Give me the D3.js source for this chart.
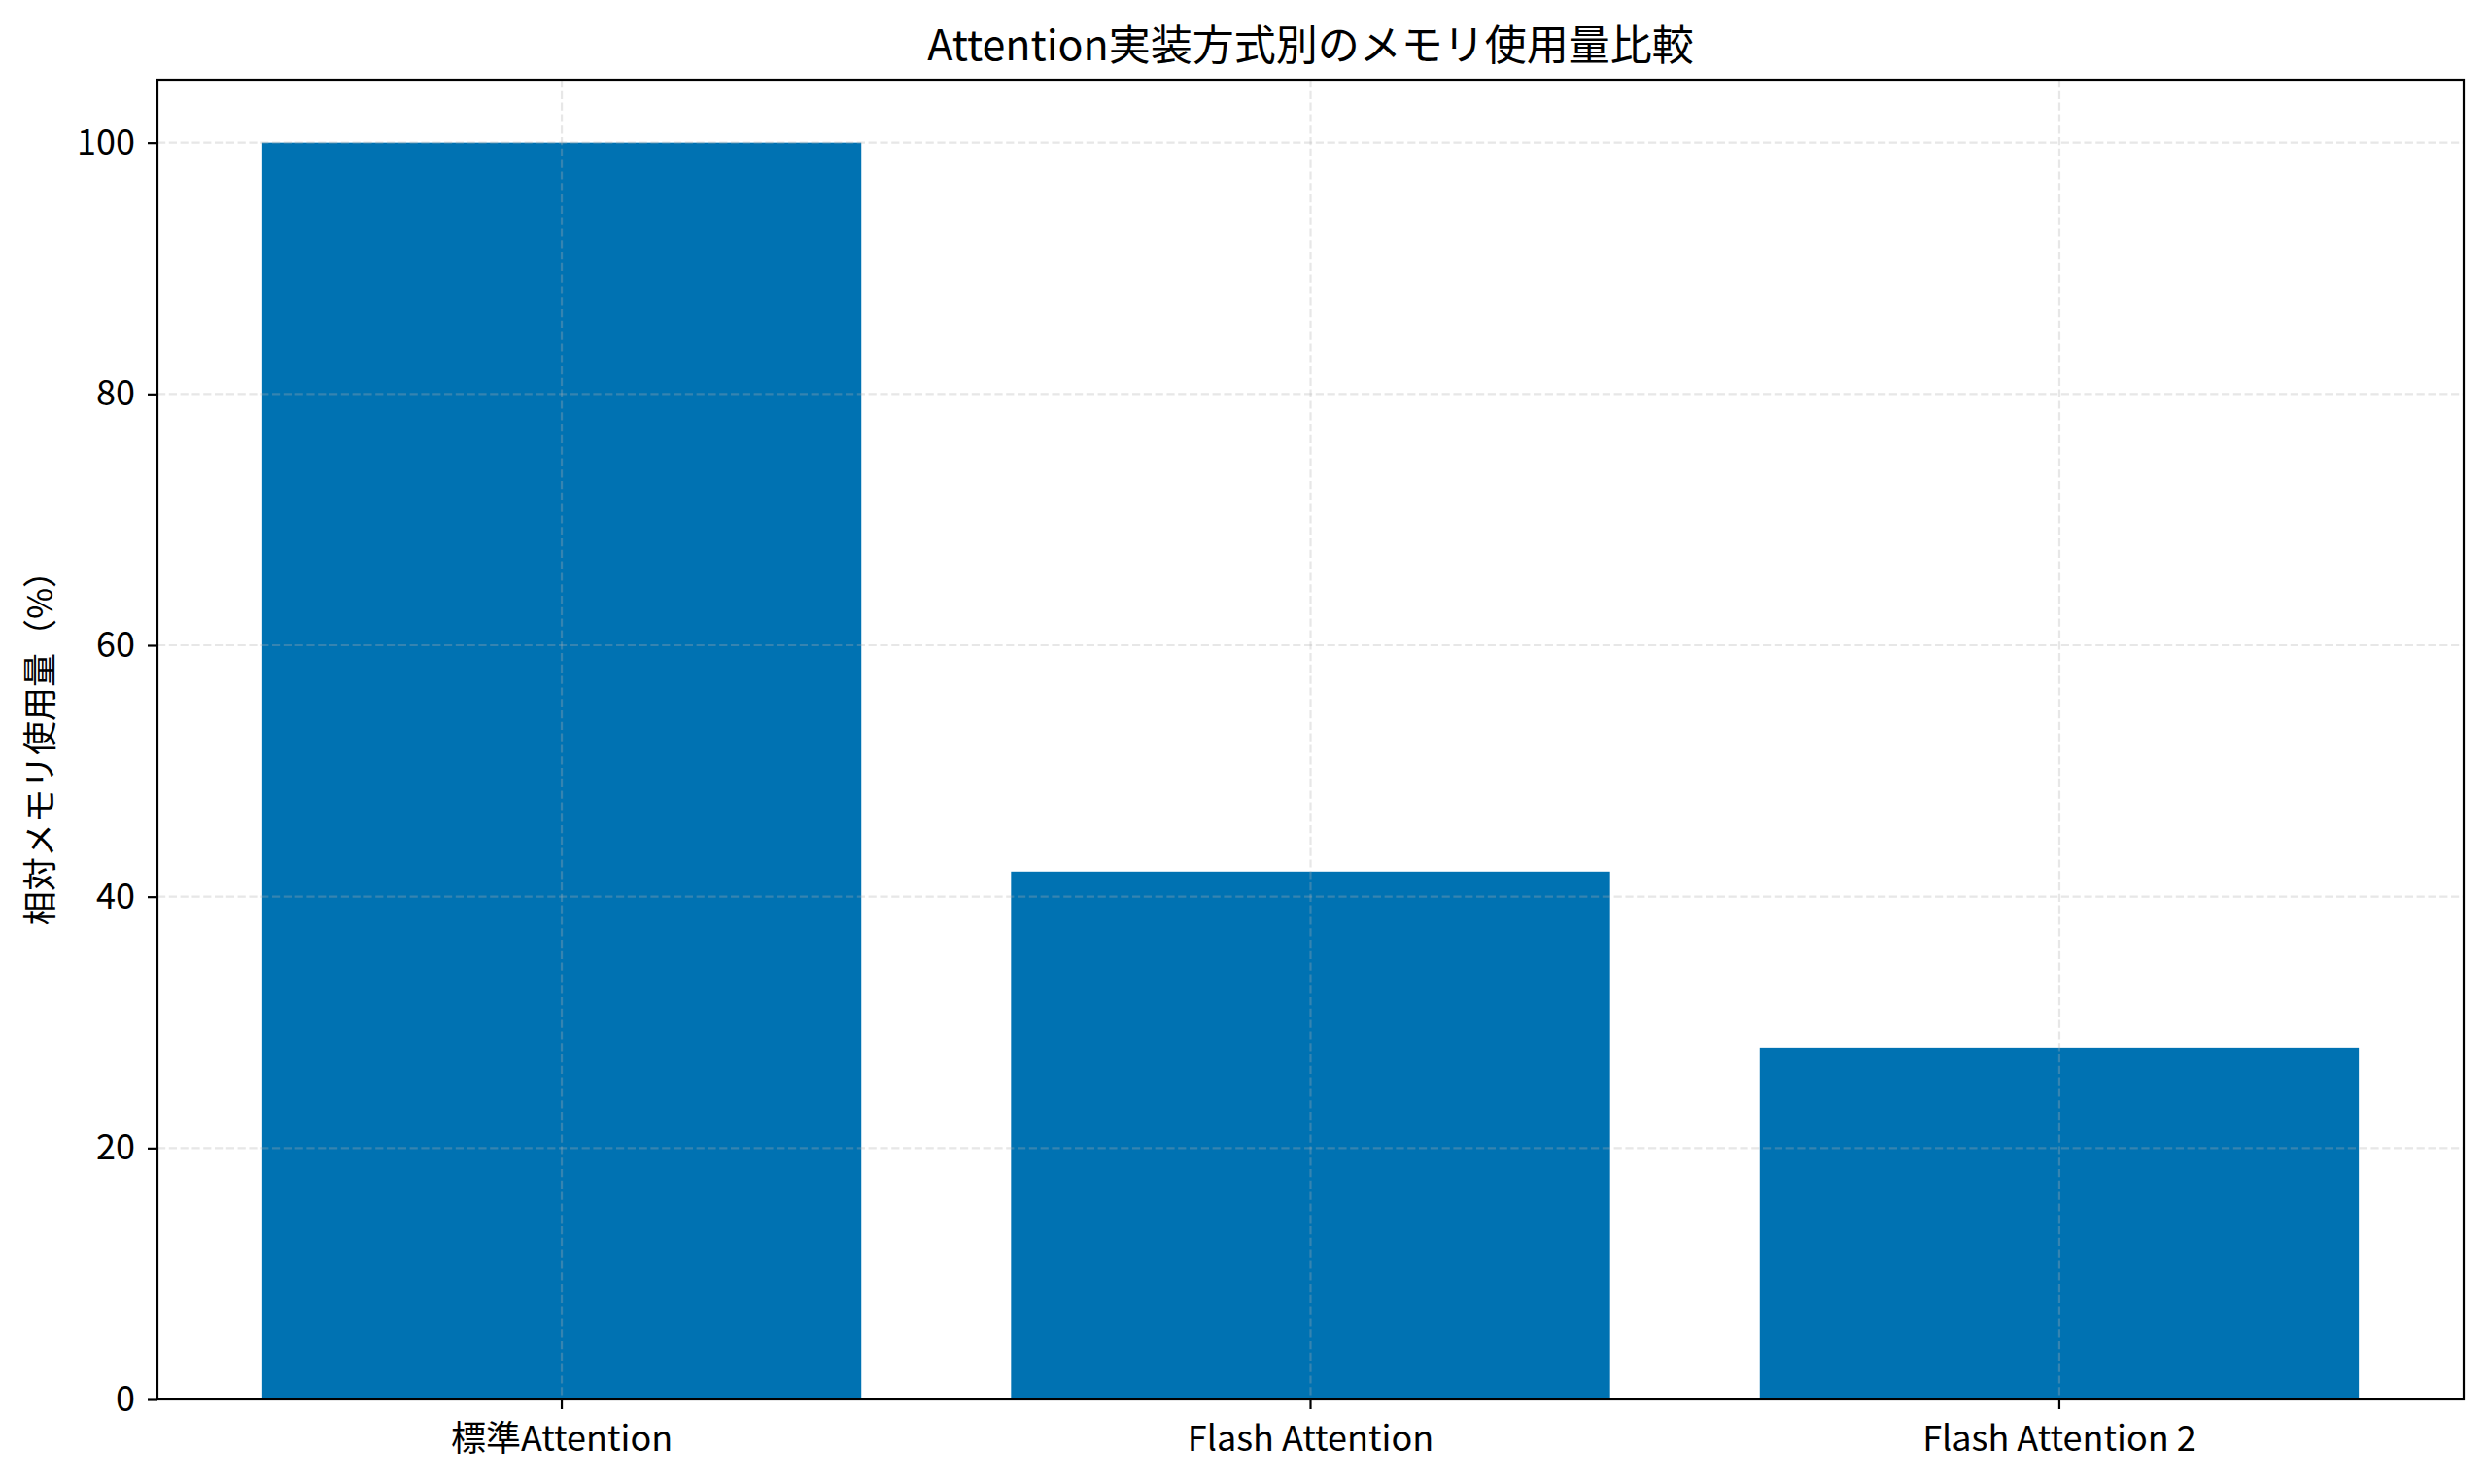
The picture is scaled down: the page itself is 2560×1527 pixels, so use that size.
<!DOCTYPE html>
<html>
<head>
<meta charset="utf-8">
<script src="https://cdn.jsdelivr.net/npm/d3@7"></script>
<style>
  body { margin: 0; background: #fff; }
  svg text { font-family: "Noto Sans CJK JP", "Noto Sans", sans-serif; fill: #000; }
</style>
</head>
<body>
<script>
// data
var categories = ["標準Attention", "Flash Attention", "Flash Attention 2"];
var memoryUsage = [100, 42, 28];
var yTicks = [0, 20, 40, 60, 80, 100];

var titleText = "Attention実装方式別のメモリ使用量比較";
var yLabelText = "相対メモリ使用量（%）";

var margin = {top: 82, right: 25, bottom: 87, left: 162};
var width = 2560 - margin.left - margin.right;
var height = 1527 - margin.top - margin.bottom;

var svg = d3.select("body")
  .append("svg")
    .attr("width", 2560)
    .attr("height", 1527);

var g = svg.append("g")
    .attr("transform", "translate(" + margin.left + "," + margin.top + ")");

// scales
var x = d3.scaleBand()
  .domain(categories)
  .range([0, width])
  .paddingInner(0.2)
  .paddingOuter(0.14);

var y = d3.scaleLinear()
  .domain([0, 105])
  .range([height, 0]);

// bars
g.selectAll("rect.bar")
  .data(categories)
  .enter()
  .append("rect")
    .attr("class", "bar")
    .attr("x", function(d) { return x(d); })
    .attr("y", function(d, i) { return y(memoryUsage[i]); })
    .attr("width", x.bandwidth())
    .attr("height", function(d, i) { return height - y(memoryUsage[i]); })
    .attr("fill", "#0072B2");

// grid (drawn over bars, as in the original)
var grid = g.append("g").attr("class", "grid");
grid.selectAll("line.h")
  .data(yTicks)
  .enter().append("line")
    .attr("x1", 0).attr("x2", width)
    .attr("y1", function(d) { return y(d); })
    .attr("y2", function(d) { return y(d); });
grid.selectAll("line.v")
  .data(categories)
  .enter().append("line")
    .attr("x1", function(d) { return x(d) + x.bandwidth() / 2; })
    .attr("x2", function(d) { return x(d) + x.bandwidth() / 2; })
    .attr("y1", 0).attr("y2", height);
grid.selectAll("line")
  .attr("stroke", "#b0b0b0")
  .attr("stroke-opacity", 0.3)
  .attr("stroke-width", 2.2)
  .attr("stroke-dasharray", "8.2,3.6");

// axes
var bottomAxis = d3.axisBottom(x).tickSize(10).tickPadding(10);
var gx = g.append("g")
  .attr("transform", "translate(0," + height + ")")
  .call(bottomAxis);

var leftAxis = d3.axisLeft(y).tickValues(yTicks).tickSize(10).tickPadding(13);
var gy = g.append("g").call(leftAxis);

[gx, gy].forEach(function(ax) {
  ax.select(".domain").remove();
  ax.selectAll(".tick line").attr("stroke", "#000").attr("stroke-width", 2.2);
  ax.selectAll(".tick text")
    .attr("font-size", "36px")
    .attr("fill", "#000");
});
gx.selectAll(".tick text").attr("dy", "0.93em");

// frame
g.append("rect")
  .attr("width", width)
  .attr("height", height)
  .attr("fill", "none")
  .attr("stroke", "#000")
  .attr("stroke-width", 2.2);

// title
svg.append("text")
  .attr("x", margin.left + width / 2)
  .attr("y", margin.top - 20)
  .attr("text-anchor", "middle")
  .attr("font-size", "43px")
  .text(titleText);

// y label
svg.append("text")
  .attr("transform", "translate(" + 54 + "," + (margin.top + height / 2) + ") rotate(-90)")
  .attr("text-anchor", "middle")
  .attr("font-size", "35px")
  .text(yLabelText);
</script>
</body>
</html>
